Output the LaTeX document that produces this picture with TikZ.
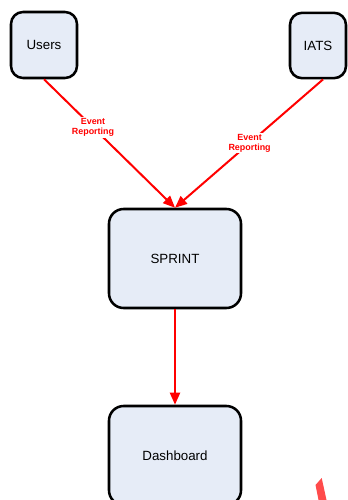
\documentclass[tikz,border=0pt]{standalone}
\usepackage{fontspec}
\setmainfont{Liberation Sans}
\usetikzlibrary{arrows.meta}
\definecolor{boxfill}{RGB}{230,236,247}
\definecolor{flow}{RGB}{255,0,0}
\definecolor{strokered}{RGB}{255,75,75}
\tikzset{
  entity/.style={draw=black, line width=1.9pt, fill=boxfill, rounded corners=9pt,
    font=\fontsize{10}{12}\selectfont, inner sep=0pt},
  stage/.style={entity, rounded corners=11pt, minimum width=99pt, minimum height=74.25pt},
  flowline/.style={draw=flow, line width=1.5pt, -{Triangle[length=9pt,width=7.5pt]}},
  flowlabel/.style={fill=white, text=flow, font=\bfseries\fontsize{6.7}{7.4}\selectfont,
    align=center, inner sep=1pt}
}
\begin{document}
\begin{tikzpicture}[x=0.75pt,y=-0.75pt]
\useasboundingbox (0,0) rectangle (348,500);
\clip (0,0) rectangle (348,500);

% source systems
\node[entity, minimum width=49.5pt, minimum height=49.5pt] (users) at (44,45) {Users};
\node[entity, minimum width=42pt, minimum height=49pt] (iats) at (318,45.5) {IATS};

% processing and output stages
\node[stage] (sprint) at (175,258.5) {SPRINT};
\node[stage] (dash) at (175,455.5) {Dashboard};

% event flows
\coordinate (iatsout) at ([xshift=3.75pt]iats.south);
\draw[flowline] (users.south) -- node[flowlabel, pos=0.374] {Event\\Reporting} (sprint.north);
\draw[flowline] (iatsout) -- node[flowlabel, pos=0.496] {Event\\Reporting} (sprint.north);
\draw[flowline] (sprint.south) -- (dash.north);

% red stroke at the lower right edge
\fill[strokered] (315.5,485) -- (321.7,478) -- (326.5,500) -- (318.5,500) -- cycle;
\end{tikzpicture}
\end{document}
